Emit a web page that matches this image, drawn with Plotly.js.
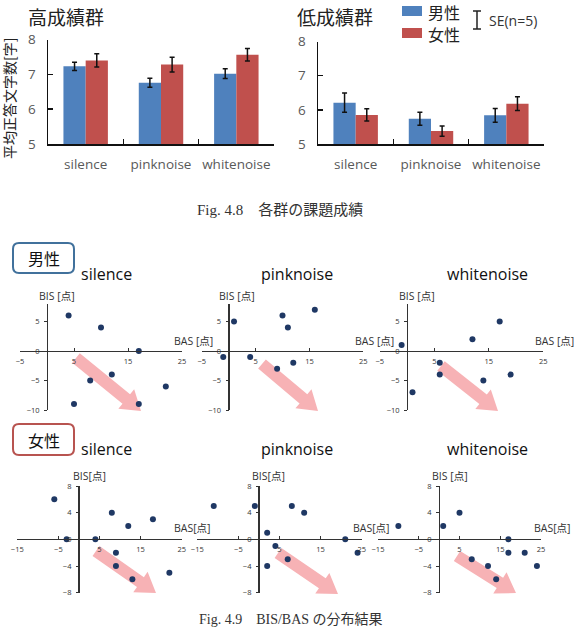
<!DOCTYPE html>
<html><head><meta charset="utf-8">
<script src="https://cdn.plot.ly/plotly-3.0.1.min.js"></script>
<style>body{margin:0;background:#fff}#chart{width:575px;height:629px}</style>
</head><body><div id="chart"></div>
<script>
// ---------- data ----------
const categories = ['silence', 'pinknoise', 'whitenoise'];
const seriesNames = ['男性', '女性'];
const groupTitles = ['高成績群', '低成績群'];
const highMale = [7.23, 6.76, 7.02];
const highMaleSE = [0.12, 0.13, 0.14];
const highFemale = [7.40, 7.28, 7.56];
const highFemaleSE = [0.19, 0.21, 0.18];
const lowMale = [6.21, 5.74, 5.84];
const lowMaleSE = [0.28, 0.19, 0.20];
const lowFemale = [5.85, 5.38, 6.18];
const lowFemaleSE = [0.18, 0.15, 0.20];
const barTicks = [5, 6, 7, 8];

const maleSilenceBAS = [4, 10, 17, 8, 12, 22, 5, 17];
const maleSilenceBIS = [6, 4, 0, -5, -4, -6, -9, -9];
const malePinkBAS = [1, 10, 11, 16, -1, 4, 9, 12];
const malePinkBIS = [5, 6, 4, 7, -1, -1, -3, -2];
const maleWhiteBAS = [-1, 12, 17, 6, 6, 14, 19, 1];
const maleWhiteBIS = [1, 2, 5, -2, -4, -5, -4, -7];
const femaleSilenceBAS = [-6, -3, 4, 8, 12, 18, 9, 9, 13, 22];
const femaleSilenceBIS = [6, 0, 0, 4, 2, 3, -2, -4, -6, -5];
const femalePinkBAS = [-11, -1, 8, 11, 2, 4, 2, 7, 21, 24];
const femalePinkBIS = [5, 5, 5, 4, 1, -1, -4, -3, 0, -2];
const femaleWhiteBAS = [-10, 1, 5, 8, 12, 14, 17, 17, 21, 24];
const femaleWhiteBIS = [2, 2, 4, -3, -4, -6, 0, -2, -2, -4];
const maleTicksX = [-5, 5, 15, 25];
const maleTicksY = [-10, -5, 0, 5];
const femaleTicksX = [-15, -5, 5, 15, 25];
const femaleTicksY = [-8, -4, 0, 4, 8];

// ---------- layout helpers ----------
const W = 575, H = 629;
const px = x => x / W;
const py = y => 1 - y / H;
const BLUE = '#4F81BD', RED = '#C0504D', DOT = '#1F3864';
const LAT = '"Open Sans", "Noto Sans CJK JP", sans-serif';
const JP = '"Noto Sans CJK JP", "Noto Sans", sans-serif';

const layout = {
  width: W, height: H, margin: {l: 0, r: 0, t: 0, b: 0},
  paper_bgcolor: '#fff', plot_bgcolor: 'rgba(0,0,0,0)',
  showlegend: false, barmode: 'group', bargap: 0.41, bargroupgap: 0,
  shapes: [], annotations: []
};
const data = [];

function barAxes(n, x0, x1, yTop, yBot) {
  const xs = n === 1 ? '' : n, ys = n === 1 ? '' : n;
  layout['xaxis' + xs] = {
    domain: [px(x0), px(x1)], anchor: 'y' + ys, type: 'category', range: [-0.5, 2.5],
    showline: true, linecolor: '#111', linewidth: 1.5, ticks: 'inside', tickson: 'boundaries',
    ticklen: 5, tickcolor: '#111', tickwidth: 1.5, showgrid: false, zeroline: false,
    tickangle: 0, automargin: false,
    tickfont: {family: LAT, size: 13.5, color: '#595959'}, ticklabelstandoff: 7
  };
  layout['yaxis' + ys] = {
    domain: [py(yBot), py(yTop)], anchor: 'x' + xs, range: [5, 8], tickvals: barTicks,
    showline: true, linecolor: '#111', linewidth: 1.5, ticks: 'inside', ticklen: 5,
    tickcolor: '#111', tickwidth: 1.5, showgrid: false, zeroline: false,
    tickfont: {family: LAT, size: 13.5, color: '#595959'}, ticklabelstandoff: 8
  };
}
barAxes(1, 48, 274, 39.5, 144);
barAxes(2, 318, 544, 41.5, 144);

function addBars(n, vals, se, idx) {
  const s = n === 1 ? '' : n;
  data.push({
    type: 'bar', x: categories, y: vals, name: seriesNames[idx],
    xaxis: 'x' + s, yaxis: 'y' + s, marker: {color: idx === 0 ? BLUE : RED},
    error_y: {type: 'data', array: se, visible: true, color: '#111', thickness: 1.5, width: 2.5}
  });
}
addBars(1, highMale, highMaleSE, 0);
addBars(1, highFemale, highFemaleSE, 1);
addBars(2, lowMale, lowMaleSE, 0);
addBars(2, lowFemale, lowFemaleSE, 1);

function scatter(n, bas, bis, xr, yr, x0, x1, yTop, yBot, xt, yt) {
  const zeroXpx = x0 + (0 - xr[0]) / (xr[1] - xr[0]) * (x1 - x0);
  const zeroYpx = yBot - (0 - yr[0]) / (yr[1] - yr[0]) * (yBot - yTop);
  layout['xaxis' + n] = {
    domain: [px(x0), px(x1)], range: xr, anchor: 'free', position: py(zeroYpx),
    tickvals: xt, ticks: 'inside', ticklen: 3, tickcolor: '#333',
    showline: true, linecolor: '#333', linewidth: 1, showgrid: false,
    zeroline: true, zerolinecolor: '#333', zerolinewidth: 1,
    tickfont: {family: LAT, size: 7.5, color: '#333'}, ticklabelstandoff: 3
  };
  layout['yaxis' + n] = {
    domain: [py(yBot), py(yTop)], range: yr, anchor: 'free', position: px(zeroXpx),
    tickvals: yt, ticks: 'outside', ticklen: 3, tickcolor: '#333',
    showline: true, linecolor: '#333', linewidth: 1, showgrid: false,
    zeroline: true, zerolinecolor: '#333', zerolinewidth: 1,
    tickfont: {family: LAT, size: 7.5, color: '#333'}, ticklabelstandoff: 3
  };
  data.push({
    type: 'scatter', mode: 'markers', x: bas, y: bis, xaxis: 'x' + n, yaxis: 'y' + n,
    marker: {color: DOT, size: 6}, cliponaxis: false
  });
}
scatter(3, maleSilenceBAS, maleSilenceBIS, [-5, 25], [-10, 8], 20, 182, 303.8, 410, maleTicksX, maleTicksY);
scatter(4, malePinkBAS, malePinkBIS, [-5, 25], [-10, 8], 201.7, 363.3, 303.8, 410, maleTicksX, maleTicksY);
scatter(5, maleWhiteBAS, maleWhiteBIS, [-5, 25], [-10, 8], 379.8, 543.3, 303.8, 410, maleTicksX, maleTicksY);
scatter(6, femaleSilenceBAS, femaleSilenceBIS, [-15, 25], [-8, 8], 17.3, 181.7, 486, 592.7, femaleTicksX, femaleTicksY);
scatter(7, femalePinkBAS, femalePinkBIS, [-15, 25], [-8, 8], 197.3, 361.7, 486, 592.7, femaleTicksX, femaleTicksY);
scatter(8, femaleWhiteBAS, femaleWhiteBIS, [-15, 25], [-8, 8], 378, 541, 486, 592.7, femaleTicksX, femaleTicksY);

// ---------- decorations ----------
function P(x, y) { return px(x).toFixed(5) + ',' + py(y).toFixed(5); }
function arrow(sx, sy, ex, ey) {
  const sw = 12, hw = 25, hl = 19;
  const L = Math.hypot(ex - sx, ey - sy), ux = (ex - sx) / L, uy = (ey - sy) / L;
  const nx = -uy, ny = ux;
  const bx = ex - ux * hl, by = ey - uy * hl;
  const pts = [
    [sx + nx * sw / 2, sy + ny * sw / 2], [bx + nx * sw / 2, by + ny * sw / 2],
    [bx + nx * hw / 2, by + ny * hw / 2], [ex, ey],
    [bx - nx * hw / 2, by - ny * hw / 2], [bx - nx * sw / 2, by - ny * sw / 2],
    [sx - nx * sw / 2, sy - ny * sw / 2]
  ];
  layout.shapes.push({
    type: 'path', xref: 'paper', yref: 'paper', layer: 'below',
    path: 'M' + pts.map(p => P(p[0], p[1])).join('L') + 'Z',
    fillcolor: '#F7B2B5', line: {width: 0}
  });
}
arrow(76, 358, 141, 411);
arrow(262, 364, 318, 411);
arrow(441, 366, 498, 411);
arrow(96, 551, 156, 593);
arrow(278, 553, 338, 594);
arrow(457, 556, 516, 593);

function roundBox(x0, y0, x1, y1, r, color) {
  const path = 'M' + P(x0 + r, y0) + 'L' + P(x1 - r, y0) + 'Q' + P(x1, y0) + ' ' + P(x1, y0 + r) +
    'L' + P(x1, y1 - r) + 'Q' + P(x1, y1) + ' ' + P(x1 - r, y1) +
    'L' + P(x0 + r, y1) + 'Q' + P(x0, y1) + ' ' + P(x0, y1 - r) +
    'L' + P(x0, y0 + r) + 'Q' + P(x0, y0) + ' ' + P(x0 + r, y0) + 'Z';
  layout.shapes.push({type: 'path', xref: 'paper', yref: 'paper', path: path,
    fillcolor: '#fff', line: {color: color, width: 2}});
}
roundBox(13, 243, 74, 273, 6, '#41719C');
roundBox(13, 424, 74, 455, 6, '#B85450');

// legend
layout.shapes.push({type: 'rect', xref: 'paper', yref: 'paper', x0: px(402), x1: px(422), y0: py(16), y1: py(6), fillcolor: BLUE, line: {width: 0}});
layout.shapes.push({type: 'rect', xref: 'paper', yref: 'paper', x0: px(402), x1: px(422), y0: py(38), y1: py(28), fillcolor: RED, line: {width: 0}});
[[477, 11, 477, 29], [473, 11, 481, 11], [473, 29, 481, 29]].forEach(l =>
  layout.shapes.push({type: 'line', xref: 'paper', yref: 'paper', x0: px(l[0]), y0: py(l[1]), x1: px(l[2]), y1: py(l[3]), line: {color: '#222', width: 1.5}}));

function ann(text, x, y, size, opts) {
  layout.annotations.push(Object.assign({
    text: text, xref: 'paper', yref: 'paper', x: px(x), y: py(y), showarrow: false,
    xanchor: 'center', yanchor: 'middle', font: {family: JP, size: size, color: '#222'}
  }, opts || {}));
}
ann(groupTitles[0], 26, 16, 19, {xanchor: 'left'});
ann(groupTitles[1], 295, 16, 19, {xanchor: 'left'});
ann(seriesNames[0], 426, 12, 16, {xanchor: 'left'});
ann(seriesNames[1], 426, 34, 16, {xanchor: 'left'});
ann('SE(n=5)', 487, 21, 14, {xanchor: 'left', font: {family: LAT, size: 14, color: '#333'}});
ann('平均正答文字数[字]', 9, 99, 14, {textangle: -90});
ann('Fig. 4.8　各群の課題成績', 280, 210, 15, {font: {family: '"Liberation Serif", "Noto Sans CJK JP", serif', size: 15, color: '#333'}});
ann('Fig. 4.9　BIS/BAS の分布結果', 291, 619, 14, {font: {family: '"Liberation Serif", "Noto Sans CJK JP", serif', size: 14, color: '#333'}});

ann(seriesNames[0], 43.5, 258, 16, {font: {family: JP, size: 16, color: '#111'}});
ann(seriesNames[1], 43.5, 439.5, 16, {font: {family: JP, size: 16, color: '#111'}});

const titleFont = {family: LAT, size: 16, color: '#111'};
[[106, 274], [297, 274], [487, 274], [106, 449], [297, 449], [487, 449]].forEach((p, i) =>
  ann(categories[i % 3], p[0], p[1], 16, {font: titleFont}));

const lblFont = {family: LAT, size: 10.5, color: '#333'};
ann('BIS [点]', 57, 296, 10.5, {font: lblFont});
ann('BIS [点]', 237, 296, 10.5, {font: lblFont});
ann('BIS [点]', 417, 296, 10.5, {font: lblFont});
ann('BAS [点]', 172, 341, 10.5, {font: lblFont, xanchor: 'left'});
ann('BAS [点]', 353, 341, 10.5, {font: lblFont, xanchor: 'left'});
ann('BAS [点]', 533, 341, 10.5, {font: lblFont, xanchor: 'left'});
ann('BIS[点]', 89, 476, 10.5, {font: lblFont});
ann('BIS[点]', 268, 476, 10.5, {font: lblFont});
ann('BIS [点]', 450, 476, 10.5, {font: lblFont});
ann('BAS[点]', 172, 528, 10.5, {font: lblFont, xanchor: 'left'});
ann('BAS[点]', 351, 528, 10.5, {font: lblFont, xanchor: 'left'});
ann('BAS[点]', 532, 528, 10.5, {font: lblFont, xanchor: 'left'});

Plotly.newPlot('chart', data, layout, {displayModeBar: false, staticPlot: true});
</script></body></html>
